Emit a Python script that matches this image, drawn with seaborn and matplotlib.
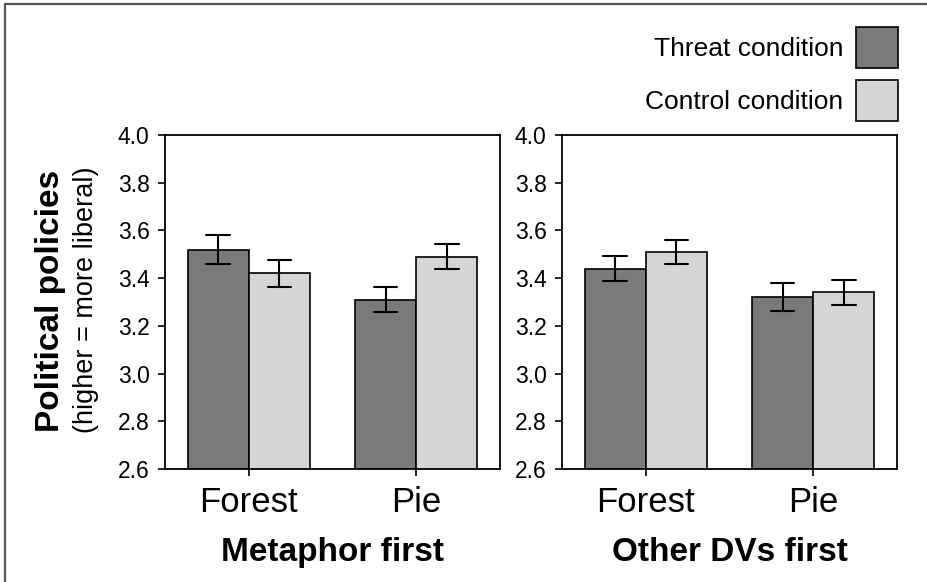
import numpy as np
import pandas as pd
import matplotlib
matplotlib.use("Agg")
import matplotlib.pyplot as plt
import seaborn as sns
from matplotlib.lines import Line2D

# data
panels = ["Metaphor first", "Other DVs first"]
metaphors = ["Forest", "Pie"]
conditions = ["Threat condition", "Control condition"]
# rows = metaphor (Forest, Pie), cols = condition (Threat, Control)
means_metaphor_first = [[3.52, 3.42], [3.31, 3.49]]
se_metaphor_first = [[0.060, 0.058], [0.052, 0.053]]
means_dvs_first = [[3.44, 3.51], [3.32, 3.34]]
se_dvs_first = [[0.052, 0.050], [0.058, 0.054]]
yticks = [2.6, 2.8, 3.0, 3.2, 3.4, 3.6, 3.8, 4.0]
colors = ["#7a7a7a", "#d5d5d5"]

def panel_frame(means, ses):
    # two rows per bar (mean - se, mean + se): mean gives the bar, min/max gives the error bar
    rows = []
    for i, m in enumerate(metaphors):
        for j, c in enumerate(conditions):
            rows.append((m, c, means[i][j] - ses[i][j]))
            rows.append((m, c, means[i][j] + ses[i][j]))
    return pd.DataFrame(rows, columns=["metaphor", "condition", "value"])

sns.set_style("ticks")
plt.rcParams['font.family'] = ['Liberation Sans', 'DejaVu Sans']
for k in ["text.color", "axes.labelcolor", "xtick.color", "ytick.color"]:
    plt.rcParams[k] = "black"

W, H = 927, 582
fig = plt.figure(figsize=(W / 100, H / 100), dpi=100)
ax1 = fig.add_axes([165 / W, 1 - 469 / H, (500 - 165) / W, (469 - 135) / H])
ax2 = fig.add_axes([562 / W, 1 - 469 / H, (897 - 562) / W, (469 - 135) / H])

data = [(means_metaphor_first, se_metaphor_first), (means_dvs_first, se_dvs_first)]
for ax, title, (mu, se) in zip([ax1, ax2], panels, data):
    df = panel_frame(mu, se)
    sns.barplot(data=df, x="metaphor", y="value", hue="condition",
                order=metaphors, hue_order=conditions, palette=colors,
                saturation=1, width=0.73, errorbar=("pi", 100), capsize=0.28,
                err_kws={"color": "black", "linewidth": 1.5},
                edgecolor="black", linewidth=1.2, legend=False, ax=ax)
    ax.set_ylim(2.6, 4.0)
    ax.set_xlim(-0.5, 1.5)
    ax.set_yticks(yticks)
    ax.set_yticklabels(["%.1f" % t for t in yticks], fontsize=16.5)
    ax.set_xticks(range(len(metaphors)))
    ax.set_xticklabels(metaphors, fontsize=25)
    ax.set_ylabel("")
    ax.set_xlabel(title, fontsize=24, fontweight="bold", labelpad=13)
    for s in ax.spines.values():
        s.set_visible(True)
        s.set_linewidth(1.3)
        s.set_color("black")
    ax.tick_params(direction="out", length=5, width=1.2, color="black")
    ax.tick_params(axis="x", pad=7)
    ax.tick_params(axis="y", pad=6)

fig.text(50 / W, 1 - 301 / H, "Political policies", rotation=90, fontsize=24,
         fontweight="bold", ha="center", va="center")
fig.text(86 / W, 1 - 300 / H, "(higher = more liberal)", rotation=90, fontsize=19.5,
         ha="center", va="center")

lfs = 19
fs = lfs * 100 / 72
hh = (41 / fs - 0.245) / 0.65
fig.legend(handles=[ax1.containers[0], ax1.containers[1]], labels=conditions,
           loc="upper right", bbox_to_anchor=(898 / W, 1 - 27 / H),
           bbox_transform=fig.transFigure, frameon=False, markerfirst=False,
           fontsize=lfs, handlelength=42 / fs, handleheight=hh,
           handletextpad=13 / fs, labelspacing=12 / fs, borderpad=0, borderaxespad=0)

# outer frame (left and top edges visible in the original)
fig.add_artist(Line2D([5 / W, 5 / W], [0, 1 - 4 / H], transform=fig.transFigure,
                      color="#555555", linewidth=1.6))
fig.add_artist(Line2D([5 / W, 1], [1 - 4 / H, 1 - 4 / H], transform=fig.transFigure,
                      color="#555555", linewidth=1.6))

fig.savefig("out.png", dpi=100)
